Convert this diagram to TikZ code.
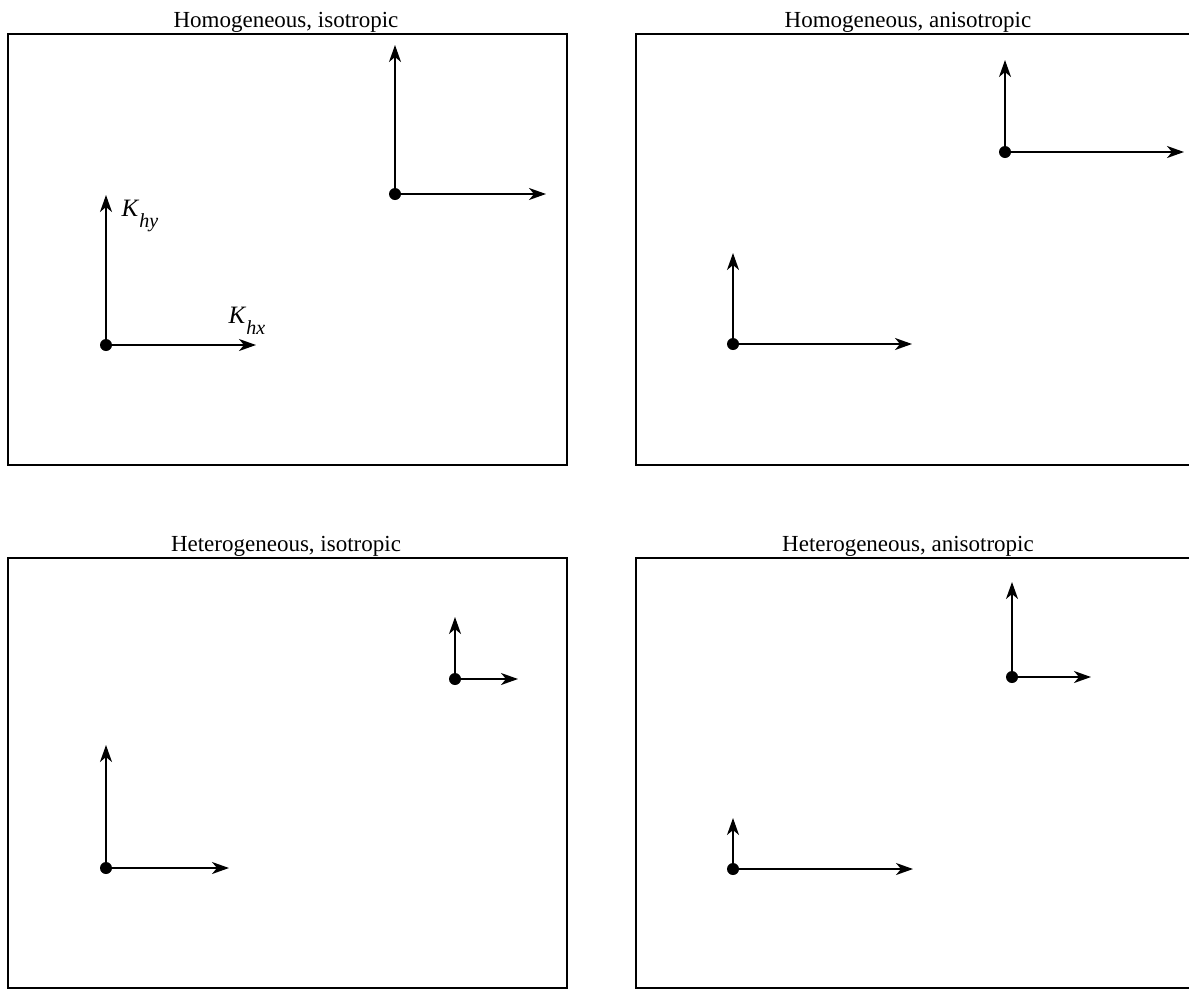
\documentclass[tikz,border=0pt]{standalone}
\usepackage{fontspec}
\setmainfont{Liberation Serif}
\usetikzlibrary{arrows.meta}
\begin{document}
\begin{tikzpicture}[x=1pt,y=-1pt,
  box/.style={line width=2pt},
  vec/.style={line width=1.7pt,-{Stealth[length=17pt,width=12pt,inset=5pt]}},
  dot/.style={circle,fill,inner sep=0pt,minimum size=12pt},
  ttl/.style={font=\fontsize{23}{27}\selectfont,anchor=base},
  lbl/.style={font=\fontsize{25}{28}\selectfont,anchor=base west}]
\useasboundingbox (0,0) rectangle (1189,989);
% boxes
\draw[box] (8,34) rectangle (567,465);
\draw[box] (1195,34) -| (636,465) -- (1195,465);
\draw[box] (8,558) rectangle (567,988);
\draw[box] (1195,558) -| (636,988) -- (1195,988);
% titles
\node[ttl] (t1) at (286,27) {Homogeneous, isotropic};
\node[ttl] (t2) at (908,27) {Homogeneous, anisotropic};
\node[ttl] (t3) at (286,551) {Heterogeneous, isotropic};
\node[ttl] (t4) at (908,551) {Heterogeneous, anisotropic};
% top-left
\node[dot] (a1) at (106,345) {};
\coordinate (a1y) at (106,195);
\coordinate (a1x) at (256,345);
\draw[vec] (a1) -- (a1y);
\draw[vec] (a1) -- (a1x);
\node[lbl] (ky) at (118,216) {\textit{K}\raisebox{-1ex}{\fontsize{20}{22}\selectfont\textit{hy}}};
\node[lbl] (kx) at (225,323) {\textit{K}\raisebox{-1ex}{\fontsize{20}{22}\selectfont\textit{hx}}};
\node[dot] (a2) at (395,194) {};
\coordinate (a2y) at (395,45);
\coordinate (a2x) at (546,194);
\draw[vec] (a2) -- (a2y);
\draw[vec] (a2) -- (a2x);
% top-right
\node[dot] (b1) at (733,344) {};
\coordinate (b1y) at (733,253);
\coordinate (b1x) at (912,344);
\draw[vec] (b1) -- (b1y);
\draw[vec] (b1) -- (b1x);
\node[dot] (b2) at (1005,152) {};
\coordinate (b2y) at (1005,60);
\coordinate (b2x) at (1184,152);
\draw[vec] (b2) -- (b2y);
\draw[vec] (b2) -- (b2x);
% bottom-left
\node[dot] (c1) at (106,868) {};
\coordinate (c1y) at (106,745);
\coordinate (c1x) at (229,868);
\draw[vec] (c1) -- (c1y);
\draw[vec] (c1) -- (c1x);
\node[dot] (c2) at (455,679) {};
\coordinate (c2y) at (455,617);
\coordinate (c2x) at (518,679);
\draw[vec] (c2) -- (c2y);
\draw[vec] (c2) -- (c2x);
% bottom-right
\node[dot] (d1) at (733,869) {};
\coordinate (d1y) at (733,818);
\coordinate (d1x) at (913,869);
\draw[vec] (d1) -- (d1y);
\draw[vec] (d1) -- (d1x);
\node[dot] (d2) at (1012,677) {};
\coordinate (d2y) at (1012,582);
\coordinate (d2x) at (1091,677);
\draw[vec] (d2) -- (d2y);
\draw[vec] (d2) -- (d2x);
\end{tikzpicture}
\end{document}
